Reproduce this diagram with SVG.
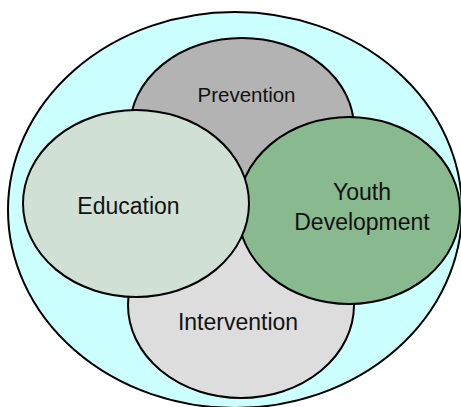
<svg xmlns="http://www.w3.org/2000/svg" width="461" height="407" viewBox="0 0 461 407">
<style>
.e{stroke:#000;stroke-width:2}
.t{font-family:"Liberation Sans",Arial,sans-serif;fill:#111;text-anchor:middle}
</style>
<rect width="461" height="407" fill="#fff"/>
<g id="outer"><ellipse class="e" cx="235" cy="210" rx="227" ry="198" fill="#ccffff"/></g>
<g id="prevention"><ellipse class="e" cx="242" cy="128" rx="112" ry="90" fill="#b3b3b3"/><text class="t" x="246.5" y="102" font-size="20.5">Prevention</text></g>
<g id="intervention"><ellipse class="e" cx="241" cy="305" rx="113" ry="93" fill="#dddddd"/><text class="t" x="238" y="330" font-size="23">Intervention</text></g>
<g id="youth"><ellipse class="e" cx="349" cy="210.5" rx="111" ry="93.5" fill="#89b98f"/><text class="t" x="362" y="200" font-size="23">Youth</text><text class="t" x="362" y="230" font-size="23">Development</text></g>
<g id="education"><ellipse class="e" cx="136" cy="203.5" rx="113" ry="93.5" fill="#d1e0d5"/><text class="t" x="128.5" y="214" font-size="23">Education</text></g>
<g id="connectors"/>
</svg>
